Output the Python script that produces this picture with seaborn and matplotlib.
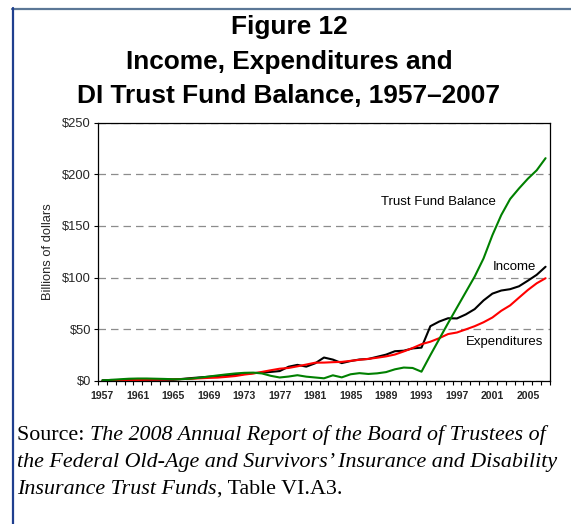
import numpy as np
import pandas as pd
import matplotlib
matplotlib.use("Agg")
import matplotlib.pyplot as plt
from matplotlib.lines import Line2D
import seaborn as sns

# ---------------- data (billions of dollars) ----------------
years = list(range(1957, 2008))
income = [0.7, 1.0, 0.9, 1.1, 1.1, 1.1, 1.2, 1.2, 1.2, 2.0,
          2.8, 3.5, 4.1, 4.8, 5.3, 5.9, 6.8, 7.7, 8.0, 8.8,
          9.6, 13.8, 15.6, 13.9, 17.1, 22.7, 20.7, 17.3, 19.3, 20.8,
          21.3, 23.4, 25.5, 28.8, 29.3, 31.5, 32.3, 53.0, 57.5, 60.7,
          60.5, 64.4, 69.5, 77.9, 84.5, 87.5, 88.8, 91.6, 97.0, 102.7,
          110.5]
expenditures = [0.0, 0.2, 0.4, 0.6, 1.0, 1.2, 1.3, 1.4, 1.7, 1.9,
                2.1, 2.6, 3.0, 3.3, 4.0, 4.8, 6.2, 7.2, 8.8, 10.4,
                11.9, 12.6, 14.2, 15.9, 17.7, 17.8, 18.2, 18.5, 19.5, 20.5,
                21.4, 22.5, 23.8, 25.6, 28.6, 31.9, 35.6, 38.0, 41.4, 45.4,
                46.9, 49.9, 53.0, 56.8, 61.4, 67.9, 73.1, 80.6, 88.0, 94.5,
                99.4]
balance = [0.6, 1.1, 1.7, 2.2, 2.4, 2.4, 2.2, 2.0, 1.7, 1.8,
           2.3, 3.2, 4.3, 5.4, 6.4, 7.3, 7.9, 8.1, 7.3, 5.0,
           3.4, 4.3, 5.6, 4.2, 3.4, 2.6, 5.5, 3.5, 6.5, 7.6,
           6.8, 7.4, 8.6, 11.3, 13.0, 12.6, 9.0, 25.0, 40.5, 56.0,
           71.0, 86.0, 101.0, 118.5, 141.0, 160.5, 176.0, 186.2, 195.6, 203.8,
           215.5]
series_names = ["Income", "Expenditures", "Trust Fund Balance"]
series_colors = ["#000000", "#ff0000", "#008000"]
y_ticks = [0, 50, 100, 150, 200, 250]
y_tick_labels = ["$0", "$50", "$100", "$150", "$200", "$250"]
x_tick_years = list(range(1957, 2008, 4))

title_lines = ["Figure 12", "Income, Expenditures and",
               "DI Trust Fund Balance, 1957\u20132007"]

df = pd.DataFrame({
    "year": years * 3,
    "value": income + expenditures + balance,
    "series": [series_names[0]] * len(years) + [series_names[1]] * len(years)
              + [series_names[2]] * len(years),
})

# ---------------- figure ----------------
sns.set_theme(style="white")
plt.rcParams["font.family"] = ["Liberation Sans", "DejaVu Sans"]

fig = plt.figure(figsize=(5.71, 5.24), dpi=100)
fig.patch.set_facecolor("white")
ax = fig.add_axes([98 / 571, 1 - 381 / 524, 452 / 571, 258.5 / 524])

sns.lineplot(data=df, x="year", y="value", hue="series",
             hue_order=series_names, palette=series_colors,
             estimator=None, sort=False, linewidth=1.5, legend=False, ax=ax)

ax.set_xlim(1956.5, 2007.5)
ax.set_ylim(0, 250)

ax.set_yticks(y_ticks)
ax.set_yticklabels(y_tick_labels, fontsize=9.3)
ax.tick_params(axis="y", which="major", direction="out", length=3, width=0.8,
               color="black", pad=2, left=True)

ax.set_xticks(x_tick_years)
ax.set_xticklabels([str(y) for y in x_tick_years], fontsize=7.6,
                   fontweight="bold")
ax.set_xticks(np.arange(1956.5, 2008, 1.0), minor=True)
ax.tick_params(axis="x", which="major", length=0, pad=7.5)
ax.tick_params(axis="x", which="minor", direction="out", length=3,
               width=0.8, color="black", bottom=True)

for s in ax.spines.values():
    s.set_color("black")
    s.set_linewidth(0.9)

ax.yaxis.grid(True, linestyle=(0, (6, 4)), color="#8c8c8c", linewidth=0.9)
ax.xaxis.grid(False)
ax.set_axisbelow(True)

ax.set_xlabel("")
ax.set_ylabel("Billions of dollars", fontsize=9.3, labelpad=6)

ax.text(1994.9, 173.5, "Trust Fund Balance", fontsize=9.5,
        ha="center", va="center", color="black")
ax.text(2003.5, 110.5, "Income", fontsize=9.5,
        ha="center", va="center", color="black")
ax.text(2002.4, 37.8, "Expenditures", fontsize=9.5,
        ha="center", va="center", color="black")

# ---------------- title ----------------
for line, ybase in zip(title_lines, [34, 69, 103]):
    fig.text(0.506, 1 - ybase / 524, line, ha="center", va="baseline",
             fontsize=18.9, fontweight="bold", color="black")

# ---------------- source note (mixed roman / italic) ----------------
serif = ["Liberation Serif", "DejaVu Serif"]
src_lines = [
    [("Source: ", "normal"),
     ("The 2008 Annual Report of the Board of Trustees of", "italic")],
    [("the Federal Old-Age and Survivors\u2019 Insurance and Disability",
      "italic")],
    [("Insurance Trust Funds", "italic"), (", Table VI.A3.", "normal")],
]
fig.canvas.draw()
renderer = fig.canvas.get_renderer()
for parts, ybase in zip(src_lines, [440, 467, 494]):
    xpix = 17
    for txt, style in parts:
        t = fig.text(xpix / 571, 1 - ybase / 524, txt, ha="left",
                     va="baseline", fontsize=15.8, family=serif,
                     style=style, color="black")
        bb = t.get_window_extent(renderer=renderer)
        xpix += bb.width

# ---------------- frame lines ----------------
fig.add_artist(Line2D([12 / 571, 1.0], [1 - 8.5 / 524, 1 - 8.5 / 524],
                      transform=fig.transFigure, color="#5b7796",
                      linewidth=1.6))
fig.add_artist(Line2D([12.5 / 571, 12.5 / 571], [0.0, 1 - 8 / 524],
                      transform=fig.transFigure, color="#1f3f8f",
                      linewidth=1.6))

fig.savefig("out.png", dpi=100, facecolor="white")
